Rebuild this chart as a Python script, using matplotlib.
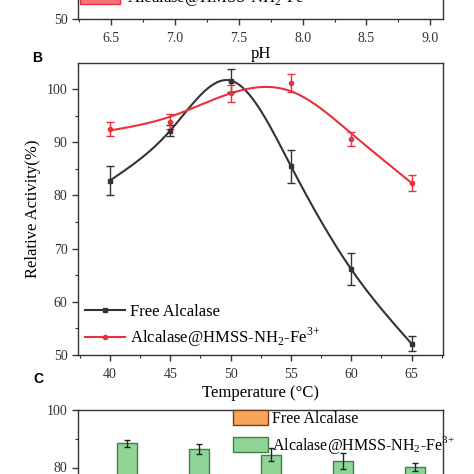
import matplotlib
matplotlib.use("Agg")
import matplotlib.pyplot as plt
from matplotlib.lines import Line2D
from matplotlib.patches import Patch
import numpy as np

plt.rcParams['font.family'] = ['Liberation Serif', 'DejaVu Serif']
plt.rcParams['mathtext.fontset'] = 'custom'
plt.rcParams['mathtext.rm'] = 'Liberation Serif'

# panel B: temperature data
temps = [40, 45, 50, 55, 60, 65]
free_act = [82.8, 92.2, 101.6, 85.5, 66.1, 52.1]
free_err = [2.7, 1.0, 2.2, 3.1, 3.0, 1.4]
immo_act = [92.5, 93.9, 99.2, 101.2, 90.6, 82.4]
immo_err = [1.4, 1.5, 1.6, 1.7, 1.3, 1.5]

# panel C: storage bars (only top part visible)
c_groups = [1, 2, 3, 4, 5]
c_free = [70.0, 62.0, 55.0, 48.0, 42.0]
c_immo = [88.4, 86.4, 84.5, 82.3, 80.2]
c_immo_err = [1.3, 1.7, 2.3, 2.8, 1.4]

pH_ticks = [6.5, 7.0, 7.5, 8.0, 8.5, 9.0]

label_immo = r'Alcalase@HMSS-NH$_2$-Fe$^{3\!+}$'
BLACK = '#333333'
RED = '#e8313c'


def natural_spline(x, y, xs):
    x = np.asarray(x, float)
    y = np.asarray(y, float)
    n = len(x)
    h = np.diff(x)
    A = np.zeros((n, n))
    b = np.zeros(n)
    A[0, 0] = 1
    A[-1, -1] = 1
    for i in range(1, n - 1):
        A[i, i - 1] = h[i - 1]
        A[i, i] = 2 * (h[i - 1] + h[i])
        A[i, i + 1] = h[i]
        b[i] = 6 * ((y[i + 1] - y[i]) / h[i] - (y[i] - y[i - 1]) / h[i - 1])
    M = np.linalg.solve(A, b)
    idx = np.clip(np.searchsorted(x, xs) - 1, 0, n - 2)
    x0, x1 = x[idx], x[idx + 1]
    hh = x1 - x0
    t0 = x1 - xs
    t1 = xs - x0
    return (M[idx] * t0 ** 3 / (6 * hh) + M[idx + 1] * t1 ** 3 / (6 * hh)
            + (y[idx] / hh - M[idx] * hh / 6) * t0
            + (y[idx + 1] / hh - M[idx + 1] * hh / 6) * t1)


def smoothing_spline(x, y, xs, lam):
    # Reinsch smoothing spline: pull knots toward a smoother curve
    x = np.asarray(x, float)
    y = np.asarray(y, float)
    n = len(x)
    h = np.diff(x)
    Q = np.zeros((n, n - 2))
    R = np.zeros((n - 2, n - 2))
    for j in range(1, n - 1):
        Q[j - 1, j - 1] = 1 / h[j - 1]
        Q[j, j - 1] = -1 / h[j - 1] - 1 / h[j]
        Q[j + 1, j - 1] = 1 / h[j]
        R[j - 1, j - 1] = (h[j - 1] + h[j]) / 3
        if j < n - 2:
            R[j - 1, j] = h[j] / 6
            R[j, j - 1] = h[j] / 6
    gam = np.linalg.solve(R + lam * Q.T @ Q, Q.T @ y)
    g = y - lam * Q @ gam
    return natural_spline(x, g, xs)


def style_axes(ax):
    for s in ax.spines.values():
        s.set_color(BLACK)
        s.set_linewidth(1.0)
    ax.tick_params(which='both', direction='out', colors=BLACK, labelsize=10,
                   top=False, right=False)
    ax.tick_params(which='major', length=4, width=1)
    ax.tick_params(which='minor', length=2.5, width=0.8)


fig = plt.figure(figsize=(4.74, 4.74), dpi=100)
L, W = 78 / 474, 365 / 474

# panel A (only its bottom edge is in view)
axA = fig.add_axes([L, 1 - 19 / 474, W, 0.616])
style_axes(axA)
axA.set_xlim(6.24, 9.1)
axA.set_ylim(50, 105)
axA.set_yticks([50])
axA.set_xticks(pH_ticks)
axA.set_xticks(np.arange(6.25, 9.1, 0.25), minor=True)
axA.set_xticklabels(['%.1f' % v for v in pH_ticks])
axA.tick_params(axis='x', pad=5)
axA.set_xlabel('pH', fontsize=12, labelpad=1)
axA.legend(handles=[Patch(facecolor='#f4737b', edgecolor=RED, label=label_immo)],
           loc='lower left', bbox_to_anchor=(80 / 474, 1 - 9 / 474),
           bbox_transform=fig.transFigure, frameon=False, fontsize=12,
           handlelength=2.4, handleheight=1.0, handletextpad=0.4,
           borderpad=0, borderaxespad=0)

# panel B
axB = fig.add_axes([L, 1 - 355 / 474, W, 292 / 474])
style_axes(axB)
xs = np.linspace(40, 65, 300)
axB.plot(xs, natural_spline(temps, free_act, xs), color=BLACK, lw=1.5)
axB.plot(xs, smoothing_spline(temps, immo_act, xs, 10.0), color=RED, lw=1.5)
axB.errorbar(temps, free_act, yerr=free_err, fmt='s', color=BLACK, ms=3,
             capsize=3, elinewidth=1, capthick=1)
axB.errorbar(temps, immo_act, yerr=immo_err, fmt='o', color=RED, ms=3,
             capsize=3, elinewidth=1, capthick=1)
axB.set_xlim(37.35, 67.6)
axB.set_ylim(50, 104.9)
axB.set_xticks(temps)
axB.set_xticks(np.arange(37.5, 67.6, 2.5), minor=True)
axB.set_yticks([50, 60, 70, 80, 90, 100])
axB.set_yticks(np.arange(55, 105, 10), minor=True)
axB.tick_params(axis='x', pad=5)
axB.set_xlabel('Temperature (°C)', fontsize=12, labelpad=3)
axB.set_ylabel('Relative Activity(%)', fontsize=12, labelpad=4)
handles = [Line2D([], [], color=BLACK, marker='s', ms=3, lw=1.5, label='Free Alcalase'),
           Line2D([], [], color=RED, marker='o', ms=3, lw=1.5, label=label_immo)]
axB.legend(handles=handles, loc='lower left', bbox_to_anchor=(0.01, 0.01),
           frameon=False, fontsize=12, handlelength=2.4, handletextpad=0.3,
           labelspacing=0.35, borderpad=0, borderaxespad=0.2)

# panel C (only its top part is in view)
axC = fig.add_axes([L, 1 - 410 / 474 - 115 / 474, W, 115 / 474])
style_axes(axC)
pos = np.arange(len(c_groups))
axC.bar(pos - 0.3, c_free, width=0.28, color='#f7a55a', edgecolor='#7a3e12', lw=1)
axC.bar(pos, c_immo, width=0.28, color='#8fd598', edgecolor='#3f7f48', lw=1)
axC.errorbar(pos, c_immo, yerr=c_immo_err, fmt='none', ecolor='#222222',
             capsize=2.5, elinewidth=1, capthick=1)
axC.set_xlim(-0.68, 4.39)
axC.set_ylim(60, 100)
axC.set_yticks([60, 80, 100])
axC.set_yticks([70, 90], minor=True)
axC.set_xticks([])
leg_c = [Patch(facecolor='#f7a55a', edgecolor='#7a3e12', label='Free Alcalase'),
         Patch(facecolor='#8fd598', edgecolor='#3f7f48', label=label_immo)]
axC.legend(handles=leg_c, loc='upper left', bbox_to_anchor=(233 / 474, 1 - 410 / 474),
           bbox_transform=fig.transFigure, frameon=False, fontsize=11.5,
           handlelength=2.2, handleheight=1.1, handletextpad=0.25,
           labelspacing=0.42, borderpad=0, borderaxespad=0)

fig.text(37 / 474, 1 - 58 / 474, 'B', fontsize=10, fontweight='bold',
         family='Liberation Sans', ha='center', va='center')
fig.text(38 / 474, 1 - 379 / 474, 'C', fontsize=10, fontweight='bold',
         family='Liberation Sans', ha='center', va='center')

fig.savefig('out.png', dpi=100)
